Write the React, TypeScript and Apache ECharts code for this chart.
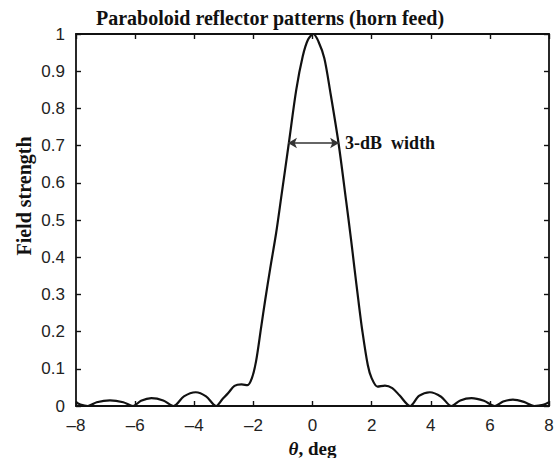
import React, { useEffect, useRef } from "react";
import * as echarts from "echarts";

const thetaDeg = [
  -8.0, -7.85, -7.6, -7.3, -6.85, -6.4, -6.07, -5.8, -5.45, -5.05, -4.7, -4.35, -3.95, -3.6, -3.26,
  -3.05, -2.85, -2.64, -2.4, -2.2, -2.05, -1.91, -1.74, -1.6, -1.43, -1.23, -1.06, -0.8, -0.55, -0.33,
  -0.15, 0.03, 0.2, 0.4, 0.6, 0.88, 1.14, 1.3, 1.42, 1.55, 1.68, 1.87, 2.0, 2.2, 2.45, 2.7, 2.95,
  3.3, 3.6, 3.97, 4.35, 4.7, 5.0, 5.38, 5.8, 6.17, 6.45, 6.78, 7.15, 7.5, 7.8, 8.0,
];
const fieldStrength = [
  0.01, 0.004, 0.0, 0.01, 0.015, 0.01, 0.0, 0.014, 0.021, 0.015, 0.0, 0.026, 0.037, 0.026, 0.0,
  0.018, 0.035, 0.054, 0.058, 0.056, 0.075, 0.12, 0.21, 0.285, 0.37, 0.465, 0.56, 0.707, 0.85, 0.94,
  0.985, 1.0, 0.98, 0.935, 0.845, 0.707, 0.55, 0.45, 0.37, 0.285, 0.205, 0.11, 0.075, 0.052, 0.055, 0.048, 0.028,
  0.0, 0.027, 0.037, 0.025, 0.0, 0.015, 0.021, 0.014, 0.0, 0.012, 0.017, 0.011, 0.0, 0.003, 0.01,
];
const widthStart = [-0.83, 0.707];
const widthEnd = [0.9, 0.707];
const xTicks = { min: -8, max: 8, interval: 2 };
const yTicks = { min: 0, max: 1, interval: 0.1 };

const SERIF = '"Liberation Serif", "Times New Roman", serif';
const SANS = '"Liberation Sans", Arial, sans-serif';

export default function App() {
  const ref = useRef<HTMLDivElement>(null);
  useEffect(() => {
    if (!ref.current) return;
    const chart = echarts.init(ref.current, undefined, { renderer: "svg" });
    const axisLine = { show: true, onZero: false, lineStyle: { color: "#111", width: 1.8 } };
    const tick = { show: true, inside: true, length: 5, lineStyle: { color: "#111", width: 1.4 } };
    const fmtX = (v: number) => (v < 0 ? "\u2013" + Math.abs(v) : String(v));
    const fmtY = (v: number) => String(Math.round(v * 10) / 10);
    chart.setOption({
      animation: false,
      backgroundColor: "#fff",
      title: {
        text: "Paraboloid reflector patterns (horn feed)",
        left: 91,
        top: 3,
        textStyle: { fontFamily: SERIF, fontWeight: "bold", fontSize: 20, color: "#111" },
      },
      grid: { left: 76, right: 6, top: 34, bottom: 52, containLabel: false, outerBoundsMode: "none" },
      xAxis: [
        {
          type: "value",
          ...xTicks,
          axisLine,
          axisTick: tick,
          splitLine: { show: false },
          axisLabel: { formatter: fmtX, fontFamily: SANS, fontSize: 17, color: "#222", margin: 11 },
          name: "{i|\u03b8}{n|, deg}",
          nameLocation: "middle",
          nameGap: 23,
          nameTextStyle: {
            fontFamily: SERIF,
            fontWeight: "bold",
            fontSize: 19,
            lineHeight: 20,
            color: "#111",
            rich: {
              i: { fontFamily: SERIF, fontStyle: "italic", fontWeight: "bold", fontSize: 19, lineHeight: 20, color: "#111" },
              n: { fontFamily: SERIF, fontWeight: "bold", fontSize: 19, lineHeight: 20, color: "#111" },
            },
          },
        },
        {
          type: "value",
          position: "top",
          ...xTicks,
          axisLine,
          axisTick: tick,
          splitLine: { show: false },
          axisLabel: { show: false },
        },
      ],
      yAxis: [
        {
          type: "value",
          ...yTicks,
          axisLine,
          axisTick: tick,
          splitLine: { show: false },
          axisLabel: { formatter: fmtY, fontFamily: SANS, fontSize: 17, color: "#222", margin: 11 },
        },
        {
          type: "value",
          position: "right",
          ...yTicks,
          axisLine,
          axisTick: tick,
          splitLine: { show: false },
          axisLabel: { show: false },
        },
      ],
      graphic: [
        {
          type: "text",
          x: 24,
          y: 196,
          rotation: Math.PI / 2,
          style: {
            text: "Field strength",
            align: "center",
            verticalAlign: "middle",
            font: `bold 20px ${SERIF}`,
            fill: "#111",
          },
        },
      ],
      series: [
        {
          type: "line",
          data: thetaDeg.map((t, i) => [t, fieldStrength[i]]),
          showSymbol: false,
          smooth: 0.3,
          lineStyle: { color: "#111", width: 2.2 },
          silent: true,
          markLine: {
            silent: true,
            symbol: ["arrow", "arrow"],
            symbolSize: [8, 9],
            lineStyle: { color: "#333", width: 1.5, type: "solid" },
            label: {
              show: true,
              position: "end",
              distance: 6,
              formatter: "3-dB  width",
              fontFamily: SERIF,
              fontWeight: "bold",
              fontSize: 18,
              color: "#111",
            },
            data: [[{ coord: widthStart }, { coord: widthEnd }]],
          },
        },
      ],
    });
    return () => chart.dispose();
  }, []);
  return <div ref={ref} style={{ width: 555, height: 458, position: "absolute", left: 0, top: 0 }} />;
}
